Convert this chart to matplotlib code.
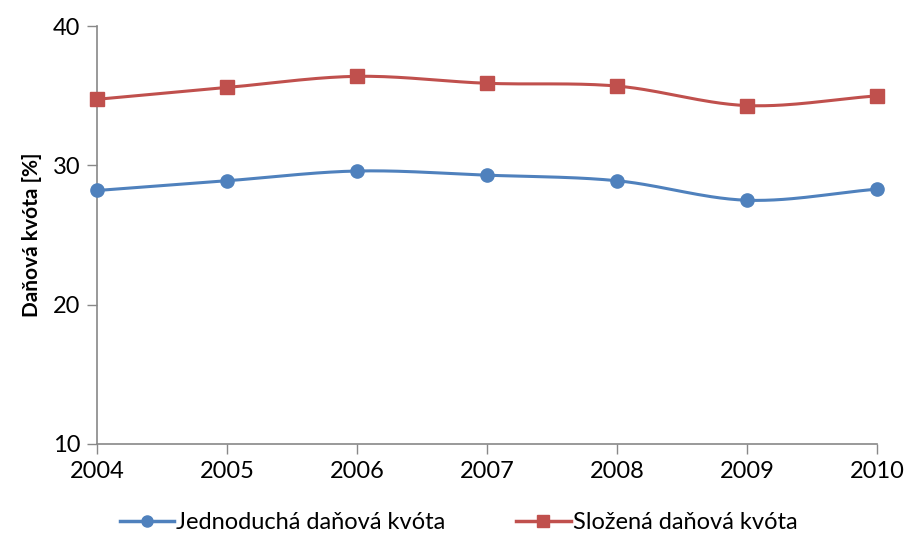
import numpy as np
import matplotlib
matplotlib.use("Agg")
import matplotlib.pyplot as plt
from matplotlib.lines import Line2D

years = [2004, 2005, 2006, 2007, 2008, 2009, 2010]
jednoducha = [28.2, 28.9, 29.6, 29.3, 28.9, 27.5, 28.3]
slozena = [34.75, 35.6, 36.4, 35.9, 35.7, 34.3, 35.0]
yticks = [10, 20, 30, 40]

blue = "#4F81BD"
red = "#C0504D"
grey = "#888888"

plt.rcParams['font.family'] = ['Lato', 'DejaVu Sans']


def smooth(x, y, n=30):
    # Catmull-Rom curve through the points, like a spreadsheet "smoothed line"
    x = np.asarray(x, float)
    y = np.asarray(y, float)
    px = np.concatenate([[2 * x[0] - x[1]], x, [2 * x[-1] - x[-2]]])
    py = np.concatenate([[2 * y[0] - y[1]], y, [2 * y[-1] - y[-2]]])
    xs, ys = [], []
    t = np.linspace(0, 1, n)
    for i in range(1, len(px) - 2):
        for p, out in ((px, xs), (py, ys)):
            p0, p1, p2, p3 = p[i - 1], p[i], p[i + 1], p[i + 2]
            out.extend(0.5 * ((2 * p1) + (-p0 + p2) * t
                              + (2 * p0 - 5 * p1 + 4 * p2 - p3) * t ** 2
                              + (-p0 + 3 * p1 - 3 * p2 + p3) * t ** 3))
    return np.array(xs), np.array(ys)


fig = plt.figure(figsize=(9.08, 5.46), dpi=100)
ax = fig.add_axes([0.107, 0.187, 0.859, 0.765])

for vals, col, mk in ((jednoducha, blue, 'o'), (slozena, red, 's')):
    sx, sy = smooth(years, vals)
    ax.plot(sx, sy, color=col, linewidth=2.2, solid_capstyle='round', zorder=2)
    ax.plot(years, vals, linestyle='none', marker=mk, markersize=9.5,
            color=col, zorder=3, clip_on=False)

ax.set_xlim(years[0], years[-1])
ax.set_ylim(10, 40)
ax.set_xticks(years)
ax.set_yticks(yticks)
ax.tick_params(axis='both', colors=grey, labelcolor='black', labelsize=17,
               length=7, width=1)
ax.tick_params(axis='x', pad=5)
ax.tick_params(axis='y', pad=5)
for s in ('top', 'right'):
    ax.spines[s].set_visible(False)
for s in ('left', 'bottom'):
    ax.spines[s].set_color(grey)
    ax.spines[s].set_linewidth(1.2)

ax.set_ylabel("Daňová kvóta [%]", fontsize=15, fontweight='bold', labelpad=8)

handles = [
    Line2D([], [], color=blue, linewidth=2.5, marker='o', markersize=8),
    Line2D([], [], color=red, linewidth=2.5, marker='s', markersize=8),
]
fig.legend(handles, ["Jednoduchá daňová kvóta", "Složená daňová kvóta"],
           loc='center', bbox_to_anchor=(0.505, 0.043), ncol=2, frameon=False,
           fontsize=17, handlelength=2.3, handletextpad=0.1, columnspacing=3.0)

fig.savefig("out.png", dpi=100)
